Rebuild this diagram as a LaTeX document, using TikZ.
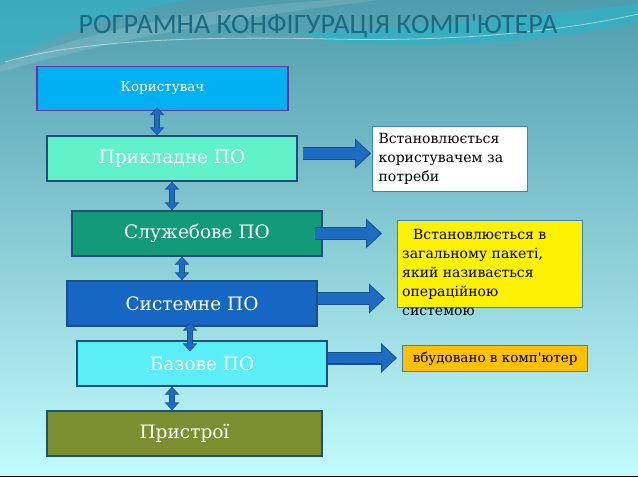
\documentclass[tikz,border=0pt]{standalone}
\usepackage{fontspec}
\setmainfont{DejaVu Serif}
\newfontfamily\titlefont{Carlito}
\usetikzlibrary{arrows.meta,calc}

\definecolor{bgtop}{HTML}{4F9CAE}
\definecolor{bgmid}{HTML}{A3D8DA}
\definecolor{bgbottom}{HTML}{C2FBFB}
\definecolor{swirlcyan}{HTML}{2EB4C6}
\definecolor{titleteal}{HTML}{1B6A80}
\definecolor{userblue}{HTML}{00B0F0}
\definecolor{userline}{HTML}{7030A0}
\definecolor{appgreen}{HTML}{62F2CA}
\definecolor{utilgreen}{HTML}{139A78}
\definecolor{sysblue}{HTML}{1666C4}
\definecolor{basecyan}{HTML}{5CEEF6}
\definecolor{devolive}{HTML}{7D8E30}
\definecolor{boxline}{HTML}{1F4E79}
\definecolor{noteline}{HTML}{3585C0}
\definecolor{noteorange}{HTML}{FFC000}
\definecolor{arrowblue}{HTML}{1E6CC2}
\definecolor{arrowedge}{HTML}{184E8C}

\tikzset{
  layer/.style={draw=boxline, line width=1.2pt, text=white, inner sep=0pt,
    minimum width=250pt, minimum height=45pt, font=\fontsize{18.5}{20}\selectfont},
  notebox/.style={draw=noteline, line width=1.2pt, anchor=north west},
  notetext/.style={align=left, inner sep=0pt, font=\fontsize{14}{19}\selectfont},
  hlink/.style={line width=10.5pt, draw=arrowblue,
    -{Triangle[width=25pt,length=13.5pt]}, shorten >=1.5pt,
    preaction={draw=arrowedge, line width=13pt,
      -{Triangle[width=29pt,length=16pt]}, shorten >=0pt}},
  vlink/.style={line width=4.5pt, draw=arrowblue,
    {Triangle[width=11pt,length=6.5pt]}-{Triangle[width=11pt,length=6.5pt]},
    shorten >=1pt, shorten <=1pt,
    preaction={draw=arrowedge, line width=6.5pt,
      {Triangle[width=14pt,length=8pt]}-{Triangle[width=14pt,length=8pt]},
      shorten >=0pt, shorten <=0pt}}
}

\begin{document}
\begin{tikzpicture}[x=1pt,y=-1pt]
    \useasboundingbox (0,0) rectangle (638,477);

    % Background
    \shade[top color=bgtop, middle color=bgmid, bottom color=bgbottom] (0,0) rectangle (638,477);
    \fill[swirlcyan, opacity=0.6] (0,0) -- (0,62) .. controls (50,40) and (110,12) .. (190,0) -- cycle;
    \fill[white, opacity=0.12] (0,66) .. controls (90,30) and (200,8) .. (330,0) -- (380,0) .. controls (250,15) and (110,40) .. (0,72) -- cycle;
    \fill[swirlcyan, opacity=0.7] (300,32) .. controls (420,28) and (540,14) .. (638,4) -- (638,22) .. controls (560,40) and (450,50) .. (330,42) -- cycle;
    \draw[white, opacity=0.5, line width=0.8pt] (5,62) .. controls (80,40) and (200,36) .. (330,39) .. controls (450,42) and (560,32) .. (638,14);
    \draw[black, line width=1pt] (0,476.5) -- (638,476.5);

    % Title
    \node[font=\titlefont\fontsize{28}{30}\selectfont, text=titleteal, anchor=base] (title) at (318,33)
        {РОГРАМНА КОНФІГУРАЦІЯ КОМП\textquotesingle ЮТЕРА};

    % Layers
    \node[layer, fill=userblue, draw=userline, minimum width=251pt, minimum height=44pt,
          font=\fontsize{13.5}{15}\selectfont] (user) at (162.5,88.5) {Користувач};
    \node[layer, fill=appgreen] (app) at (172,158.5) {Прикладне ПО};
    \node[layer, fill=utilgreen] (util) at (197,233.5) {Служебове ПО};
    \node[layer, fill=sysblue] (sys) at (192,303.5) {Системне ПО};
    \node[layer, fill=basecyan] (base) at (202,363.5) {Базове ПО};
    \node[layer, fill=devolive, minimum width=275pt] (dev) at (184.5,433.5) {Пристрої};

    % Notes
    \node[notebox, notetext, fill=white, text width=143pt, minimum height=65pt,
          inner xsep=6pt] (need) at (372,126)
        {Встановлюється\\користувачем за\\потреби};
    \node[notebox, fill=yellow, minimum width=185pt, minimum height=87pt, inner sep=0pt] (os) at (397,220) {};
    \node[notetext, anchor=north west] (ostext) at (402,229)
        {\hspace*{11pt}Встановлюється в\\загальному пакеті,\\який називається\\операційною\\системою};
    \node[notebox, notetext, fill=noteorange, minimum width=185pt, minimum height=26pt,
          inner sep=0pt, font=\fontsize{13.5}{15}\selectfont] (built) at (402,345) {вбудовано в комп\textquotesingle ютер};

    % Links between layers
    \draw[vlink] ([xshift=-5.5pt,yshift=4pt]user.south) -- ([xshift=-15pt]app.north);
    \draw[vlink] (app.south) -- ([xshift=-25pt]util.north);
    \draw[vlink] ([xshift=-15pt]util.south) -- ([xshift=-10pt]sys.north);
    \draw[vlink] ([xshift=-2pt,yshift=4pt]sys.south) -- ([xshift=-12pt,yshift=-11pt]base.north);
    \draw[vlink] ([xshift=-30pt]base.south) -- ([xshift=-12.5pt]dev.north);

    % Arrows to notes
    \draw[hlink] ($(app.east)+(5,-5)$) -- ($(need.west |- app.east)+(-1,-5)$);
    \draw[hlink] ($(util.east)+(-8,0)$) -- ($(os.west |- util.east)+(-15,0)$);
    \draw[hlink] ($(sys.east)+(0,-5)$) -- ($(os.west |- sys.east)+(-12,-5)$);
    \draw[hlink] ($(base.east)+(0,-5.5)$) -- ($(built.west |- base.east)+(-5,-5.5)$);
\end{tikzpicture}
\end{document}
